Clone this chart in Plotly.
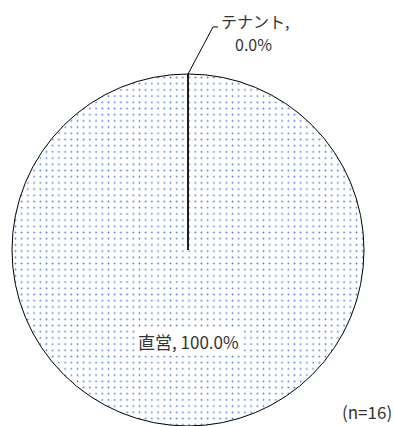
import plotly.graph_objects as go

# 運営形態の内訳
labels = ["直営", "テナント"]
values = [16, 0]
n_total = 16

W, H = 394, 426
dom_x = [11 / W, 365 / W]
dom_y = [0.0, 1 - 74 / H]

total = sum(values)
pcts = [v / total * 100 for v in values]
texts = [f"{lab}, {p:.1f}%" for lab, p in zip(labels, pcts)]

fig = go.Figure()
fig.add_trace(go.Pie(
    labels=labels,
    values=values,
    sort=False,
    direction="clockwise",
    rotation=0,
    textinfo="none",
    hoverinfo="label+percent",
    showlegend=False,
    domain=dict(x=dom_x, y=dom_y),
    marker=dict(
        colors=["white", "white"],
        line=dict(color="black", width=1),
        pattern=dict(shape=[".", ""], fgcolor="#3f78d2", bgcolor="white",
                     size=6.2, solidity=0.06, fillmode="replace"),
    ),
))

# pie geometry in pixels
cx = (dom_x[0] + dom_x[1]) / 2 * W
cy = H - (dom_y[0] + dom_y[1]) / 2 * H
r = min((dom_x[1] - dom_x[0]) * W, (dom_y[1] - dom_y[0]) * H) / 2
top_y = cy - r

def px(x, y):
    return x / W, 1 - y / H

# radius separating the zero-size slice at 12 o'clock
x0, y0 = px(cx, cy)
x1, y1 = px(cx, top_y)
fig.add_shape(type="line", xref="paper", yref="paper", x0=x0, y0=y0, x1=x1, y1=y1,
              line=dict(color="black", width=1))

# leader line for the テナント label
lx, ly = cx + 25, top_y - 47
pts = [px(cx, top_y), px(lx, ly), px(lx + 5, ly)]
path = "M {} {} L {} {} L {} {}".format(*[c for p in pts for c in p])
fig.add_shape(type="path", xref="paper", yref="paper", path=path,
              line=dict(color="black", width=1))

font = dict(family="Noto Sans CJK JP, sans-serif", size=17, color="#333333")
small = dict(font, size=16)

# テナント label, split over two lines
name_part, pct_part = texts[1].split(", ")
fig.add_annotation(x=px(lx + 6, 0)[0], y=px(0, 21)[1], xref="paper", yref="paper",
                   text=name_part + ",", showarrow=False, font=small,
                   xanchor="left", yanchor="middle")
fig.add_annotation(x=px(cx + 65, 0)[0], y=px(0, 44)[1], xref="paper", yref="paper",
                   text=pct_part, showarrow=False, font=small,
                   xanchor="center", yanchor="middle")

bx, by = px(cx, cy + 91)
fig.add_annotation(x=bx, y=by, xref="paper", yref="paper",
                   text=texts[0], showarrow=False, font=font,
                   bgcolor="white", xanchor="center", yanchor="middle")

fig.add_annotation(x=px(394, 411)[0], y=px(394, 411)[1], xref="paper", yref="paper",
                   text=f"(n={n_total})", showarrow=False, font=font,
                   xanchor="right", yanchor="middle")

fig.update_layout(width=W, height=H, margin=dict(l=0, r=0, t=0, b=0),
                  paper_bgcolor="white", plot_bgcolor="white")

fig.write_html("out.html")
